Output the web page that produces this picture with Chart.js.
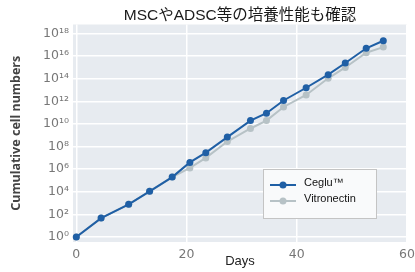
<!DOCTYPE html>
<html>
<head>
<meta charset="utf-8">
<script src="https://cdn.jsdelivr.net/npm/chart.js@4"></script>
<style>
  html, body { margin: 0; padding: 0; background: #ffffff; }
  #wrap { width: 415px; height: 272px; }
</style>
</head>
<body>
<div id="wrap"><canvas id="growth"></canvas></div>
<script>
// days of passage and cumulative cell numbers
const days = [0, 4.5, 9.5, 13.3, 17.4, 20.6, 23.5, 27.4, 31.6, 34.5, 37.6, 41.7, 45.7, 48.8, 52.6, 55.7];
const cegluCells = [1, 4.7e1, 7.9e2, 1.1e4, 2.0e5, 4.0e6, 2.9e7, 6.9e8, 2.0e10, 8.9e10, 1.2e12, 1.6e13, 2.3e14, 2.5e15, 5.0e16, 2.3e17];
const vitronectinCells = [1, 4.7e1, 7.9e2, 1.1e4, 2.0e5, 1.3e6, 1.0e7, 2.8e8, 4.0e9, 2.0e10, 3.2e11, 3.7e12, 1.1e14, 1.0e15, 2.0e16, 6.3e16];
const seriesNames = ['Ceglu™', 'Vitronectin'];
const xTicks = [0, 20, 40, 60];
const yExponents = [0, 2, 4, 6, 8, 10, 12, 14, 16, 18];

const sup = {'0':'⁰','1':'¹','2':'²','3':'³','4':'⁴','5':'⁵','6':'⁶','7':'⁷','8':'⁸','9':'⁹','-':'⁻'};
function powLabel(v) {
    const e = Math.round(Math.log10(v));
    return '10' + String(e).split('').map(c => sup[c]).join('');
}

function toPoints(ys) {
    return days.map((d, i) => ({x: d, y: ys[i]}));
}

// grey panel behind the plot
const panel = {
    id: 'panel',
    beforeDraw(chart) {
        const a = chart.chartArea;
        const ctx = chart.ctx;
        ctx.save();
        ctx.fillStyle = '#e7ebf0';
        ctx.fillRect(a.left, a.top, a.right - a.left, a.bottom - a.top);
        ctx.restore();
    }
};

// legend box sitting inside the plot, lower right
const boxLegend = {
    id: 'boxLegend',
    afterDraw(chart) {
        const a = chart.chartArea;
        const ctx = chart.ctx;
        const x0 = a.right - 144, y0 = a.bottom - 73;
        const w = 113, h = 49;
        ctx.save();
        ctx.fillStyle = '#f9fafb';
        ctx.strokeStyle = '#c4c4c4';
        ctx.lineWidth = 1;
        ctx.fillRect(x0, y0, w, h);
        ctx.strokeRect(x0 + 0.5, y0 + 0.5, w, h);
        ctx.font = '11px "Liberation Sans", Arial, sans-serif';
        ctx.textBaseline = 'middle';
        chart.data.datasets.forEach((ds, i) => {
            const y = y0 + 16 + i * 16;
            ctx.strokeStyle = ds.borderColor;
            ctx.lineWidth = 2;
            ctx.beginPath();
            ctx.moveTo(x0 + 7, y);
            ctx.lineTo(x0 + 33, y);
            ctx.stroke();
            ctx.fillStyle = ds.backgroundColor;
            ctx.beginPath();
            ctx.arc(x0 + 20, y, 3.5, 0, Math.PI * 2);
            ctx.fill();
            ctx.fillStyle = '#111111';
            ctx.fillText(ds.label, x0 + 41, y - 2);
        });
        ctx.restore();
    }
};

const config = {
    type: 'line',
    data: {
        datasets: [{
            label: seriesNames[0],
            data: toPoints(cegluCells),
            borderColor: '#1f5fa5',
            backgroundColor: '#1f5fa5',
            borderWidth: 2,
            pointRadius: 3.5,
            pointBorderWidth: 0,
            clip: false
        }, {
            label: seriesNames[1],
            data: toPoints(vitronectinCells),
            borderColor: '#b7c2c6',
            backgroundColor: '#b7c2c6',
            borderWidth: 2,
            pointRadius: 3.5,
            pointBorderWidth: 0,
            clip: false
        }]
    },
    options: {
        responsive: true,
        maintainAspectRatio: false,
        animation: false,
        layout: { padding: { left: 0, right: 0, top: 0, bottom: 0 } },
        plugins: {
            legend: { display: false },
            tooltip: { enabled: false },
            title: {
                display: true,
                fullSize: false,
                text: 'MSCやADSC等の培養性能も確認',
                color: '#1a1a1a',
                font: { family: '"Liberation Sans", "Noto Sans CJK JP", sans-serif', size: 15.5, weight: 'normal', lineHeight: 1 },
                padding: { top: 8, bottom: 1 }
            }
        },
        scales: {
            x: {
                type: 'linear',
                min: -0.6,
                max: 60,
                afterBuildTicks(scale) { scale.ticks = xTicks.map(v => ({value: v})); },
                afterFit(scale) { scale.height = 30; scale.paddingRight = 8; },
                grid: { color: '#ffffff', lineWidth: 1.5, drawTicks: false },
                border: { display: false },
                ticks: {
                    color: '#777777',
                    padding: 5,
                    maxRotation: 0,
                    font: { family: '"DejaVu Sans", sans-serif', size: 12.5 }
                },
                title: {
                    display: true,
                    text: 'Days',
                    color: '#222222',
                    font: { family: '"Liberation Sans", Arial, sans-serif', size: 13 },
                    padding: { top: 0, bottom: 3 }
                }
            },
            y: {
                type: 'logarithmic',
                min: Math.pow(10, -0.44),
                max: Math.pow(10, 18.8),
                afterBuildTicks(scale) { scale.ticks = yExponents.map(e => ({value: Math.pow(10, e)})); },
                afterFit(scale) { scale.width = 73; },
                grid: { color: '#ffffff', lineWidth: 1.5, drawTicks: false },
                border: { display: false },
                ticks: {
                    color: '#777777',
                    padding: 4,
                    font: { family: '"DejaVu Sans", sans-serif', size: 12.5 },
                    callback: (v) => powLabel(v)
                },
                title: {
                    display: true,
                    text: 'Cumulative cell numbers',
                    color: '#444444',
                    font: { family: '"Noto Sans", sans-serif', size: 12.5, weight: 'bold' },
                    padding: { top: 9, bottom: 0 }
                }
            }
        }
    },
    plugins: [panel, boxLegend]
};

const chart = new Chart(document.getElementById('growth').getContext('2d'), config);
</script>
</body>
</html>
